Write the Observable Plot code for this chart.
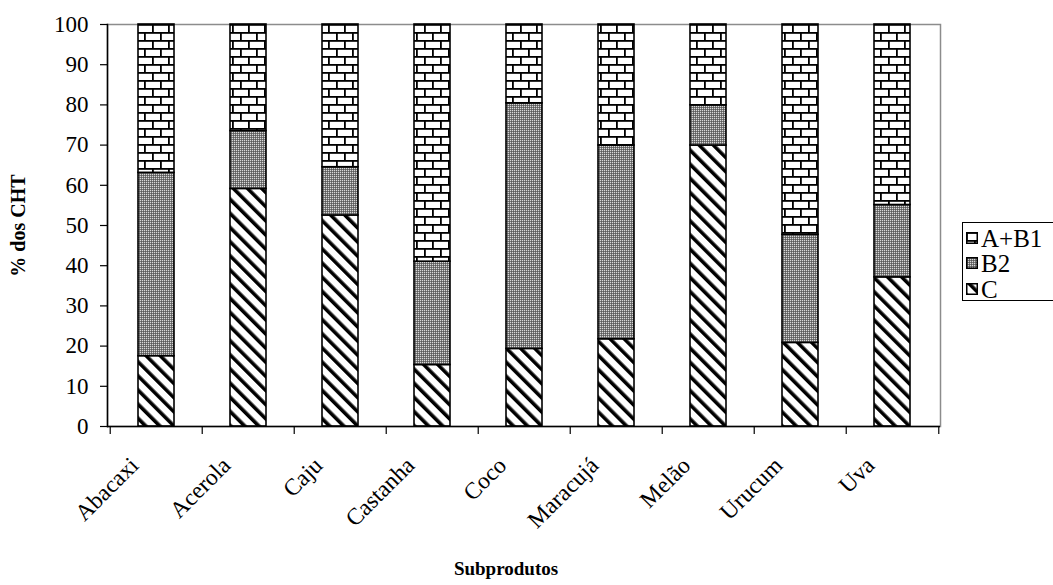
<!DOCTYPE html>
<html><head><meta charset="utf-8">
<script src="https://cdn.jsdelivr.net/npm/d3@7"></script>
<script src="https://cdn.jsdelivr.net/npm/@observablehq/plot@0.6"></script>
<style>
html,body{margin:0;padding:0;background:#fff;overflow:hidden}
#wrap{position:relative;width:1053px;height:585px;font-family:"Liberation Serif","Times New Roman",Times,serif}
#legend{position:absolute;left:962px;top:222px;width:110px;height:79px;border:1px solid #000;box-sizing:border-box;background:#fff}
.item{position:absolute;left:3px;font-size:25px;line-height:25px;height:25px;display:flex;align-items:center;color:#000;white-space:nowrap}
.item svg{margin-right:3px}
</style></head><body><div id="wrap"><div id="legend"></div></div>
<script>
const categories = ["Abacaxi","Acerola","Caju","Castanha","Coco","Maracujá","Melão","Urucum","Uva"];
const seriesNames = ["C","B2","A+B1"];
const valuesC   = [17.5, 59.1, 52.5, 15.3, 19.3, 21.7, 69.9, 20.8, 37.1];
const valuesB2  = [45.6, 14.4, 12.0, 25.7, 61.1, 48.2, 10.0, 26.9, 18.0];
const valuesAB1 = [36.9, 26.5, 35.5, 59.0, 19.6, 30.1, 20.1, 52.3, 44.9];
const yTicks = [0,10,20,30,40,50,60,70,80,90,100];
const legendOrder = ["A+B1","B2","C"];
const yLabel = "% dos CHT";
const xLabel = "Subprodutos";

const patternIds = {"C":"pat-c","B2":"pat-b2","A+B1":"pat-ab1"};
const seriesValues = {"C":valuesC,"B2":valuesB2,"A+B1":valuesAB1};
const data = [];
categories.forEach((cat,i)=>{
  seriesNames.forEach(s=>data.push({cat, series:s, value: seriesValues[s][i]}));
});

const W=1053,H=585,mL=107,mR=113,mT=24,mB=159;
const step=(W-mL-mR)/categories.length;
const font='"Liberation Serif","Times New Roman",Times,serif';

const chart = Plot.plot({
  width:W,height:H,marginLeft:mL,marginRight:mR,marginTop:mT,marginBottom:mB,
  style:{fontFamily:font,fontSize:"23px",color:"#000",background:"transparent"},
  x:{domain:categories,paddingInner:0.61,paddingOuter:0.305},
  y:{domain:[0,100]},
  color:{domain:seriesNames,range:seriesNames.map(s=>`url(#${patternIds[s]})`)},
  marks:[
    Plot.frame({stroke:"#8c8c8c",strokeWidth:1.5}),
    Plot.barY(data,{x:"cat",y:"value",fill:"series",stroke:"#000",strokeWidth:1.6}),
    Plot.frame({anchor:"left",stroke:"#000",strokeWidth:1.5}),
    Plot.ruleY([0],{stroke:"#000",strokeWidth:1.5}),
    Plot.ruleX(categories,{x:d=>d,y1:0,y2:0,insetBottom:-8,dx:-step/2,stroke:"#000",strokeWidth:1.2}),
    Plot.ruleX([categories[categories.length-1]],{x:d=>d,y1:0,y2:0,insetBottom:-8,dx:step/2,stroke:"#000",strokeWidth:1.2}),
    Plot.axisY({ticks:yTicks,tickSize:7,tickPadding:12,label:null,fontSize:23,stroke:"#000",strokeWidth:1.2}),
    Plot.axisX({tickRotate:-45,tickSize:0,tickPadding:35,dx:-22,label:null,fontSize:23.5}),
    Plot.text([yLabel],{frameAnchor:"left",rotate:-90,dx:-89,textAnchor:"middle",lineAnchor:"middle",fontWeight:"bold",fontSize:20}),
    Plot.text([xLabel],{frameAnchor:"bottom",dy:142,dx:-18,textAnchor:"middle",lineAnchor:"middle",fontWeight:"bold",fontSize:19})
  ]
});

const defs = document.createElementNS("http://www.w3.org/2000/svg","defs");
defs.innerHTML = `
<pattern id="pat-ab1" patternUnits="userSpaceOnUse" width="16" height="16">
  <rect width="16" height="16" fill="#fff"/>
  <rect x="0" y="0" width="16" height="1.8" fill="#000"/>
  <rect x="0" y="8" width="16" height="1.8" fill="#000"/>
  <rect x="0" y="0" width="1.8" height="8" fill="#000"/>
  <rect x="8" y="8" width="1.8" height="8" fill="#000"/>
</pattern>
<pattern id="pat-b2" patternUnits="userSpaceOnUse" width="2" height="2">
  <rect width="2" height="2" fill="#777"/>
  <rect x="0" y="0" width="1" height="1" fill="#d8d8d8"/>
  <rect x="1" y="1" width="1" height="1" fill="#5a5a5a"/>
</pattern>
<pattern id="pat-c" patternUnits="userSpaceOnUse" width="10" height="10" patternTransform="rotate(-45)">
  <rect width="10" height="10" fill="#fff"/>
  <rect x="0" y="0" width="3.6" height="10" fill="#000"/>
</pattern>`;
chart.insertBefore(defs, chart.firstChild);
document.getElementById("wrap").insertBefore(chart, document.getElementById("legend"));

const legend = document.getElementById("legend");
const centers = [15, 40, 66];
legendOrder.forEach((s,i)=>{
  const it = document.createElement("div");
  it.className="item";
  it.style.top = (centers[i]-12.5)+"px";
  it.innerHTML = `<svg width="12" height="12"><rect x="0.75" y="0.75" width="10.5" height="10.5" fill="url(#${patternIds[s]})" stroke="#000" stroke-width="1.5"/></svg><span>${s}</span>`;
  legend.appendChild(it);
});
</script></body></html>
